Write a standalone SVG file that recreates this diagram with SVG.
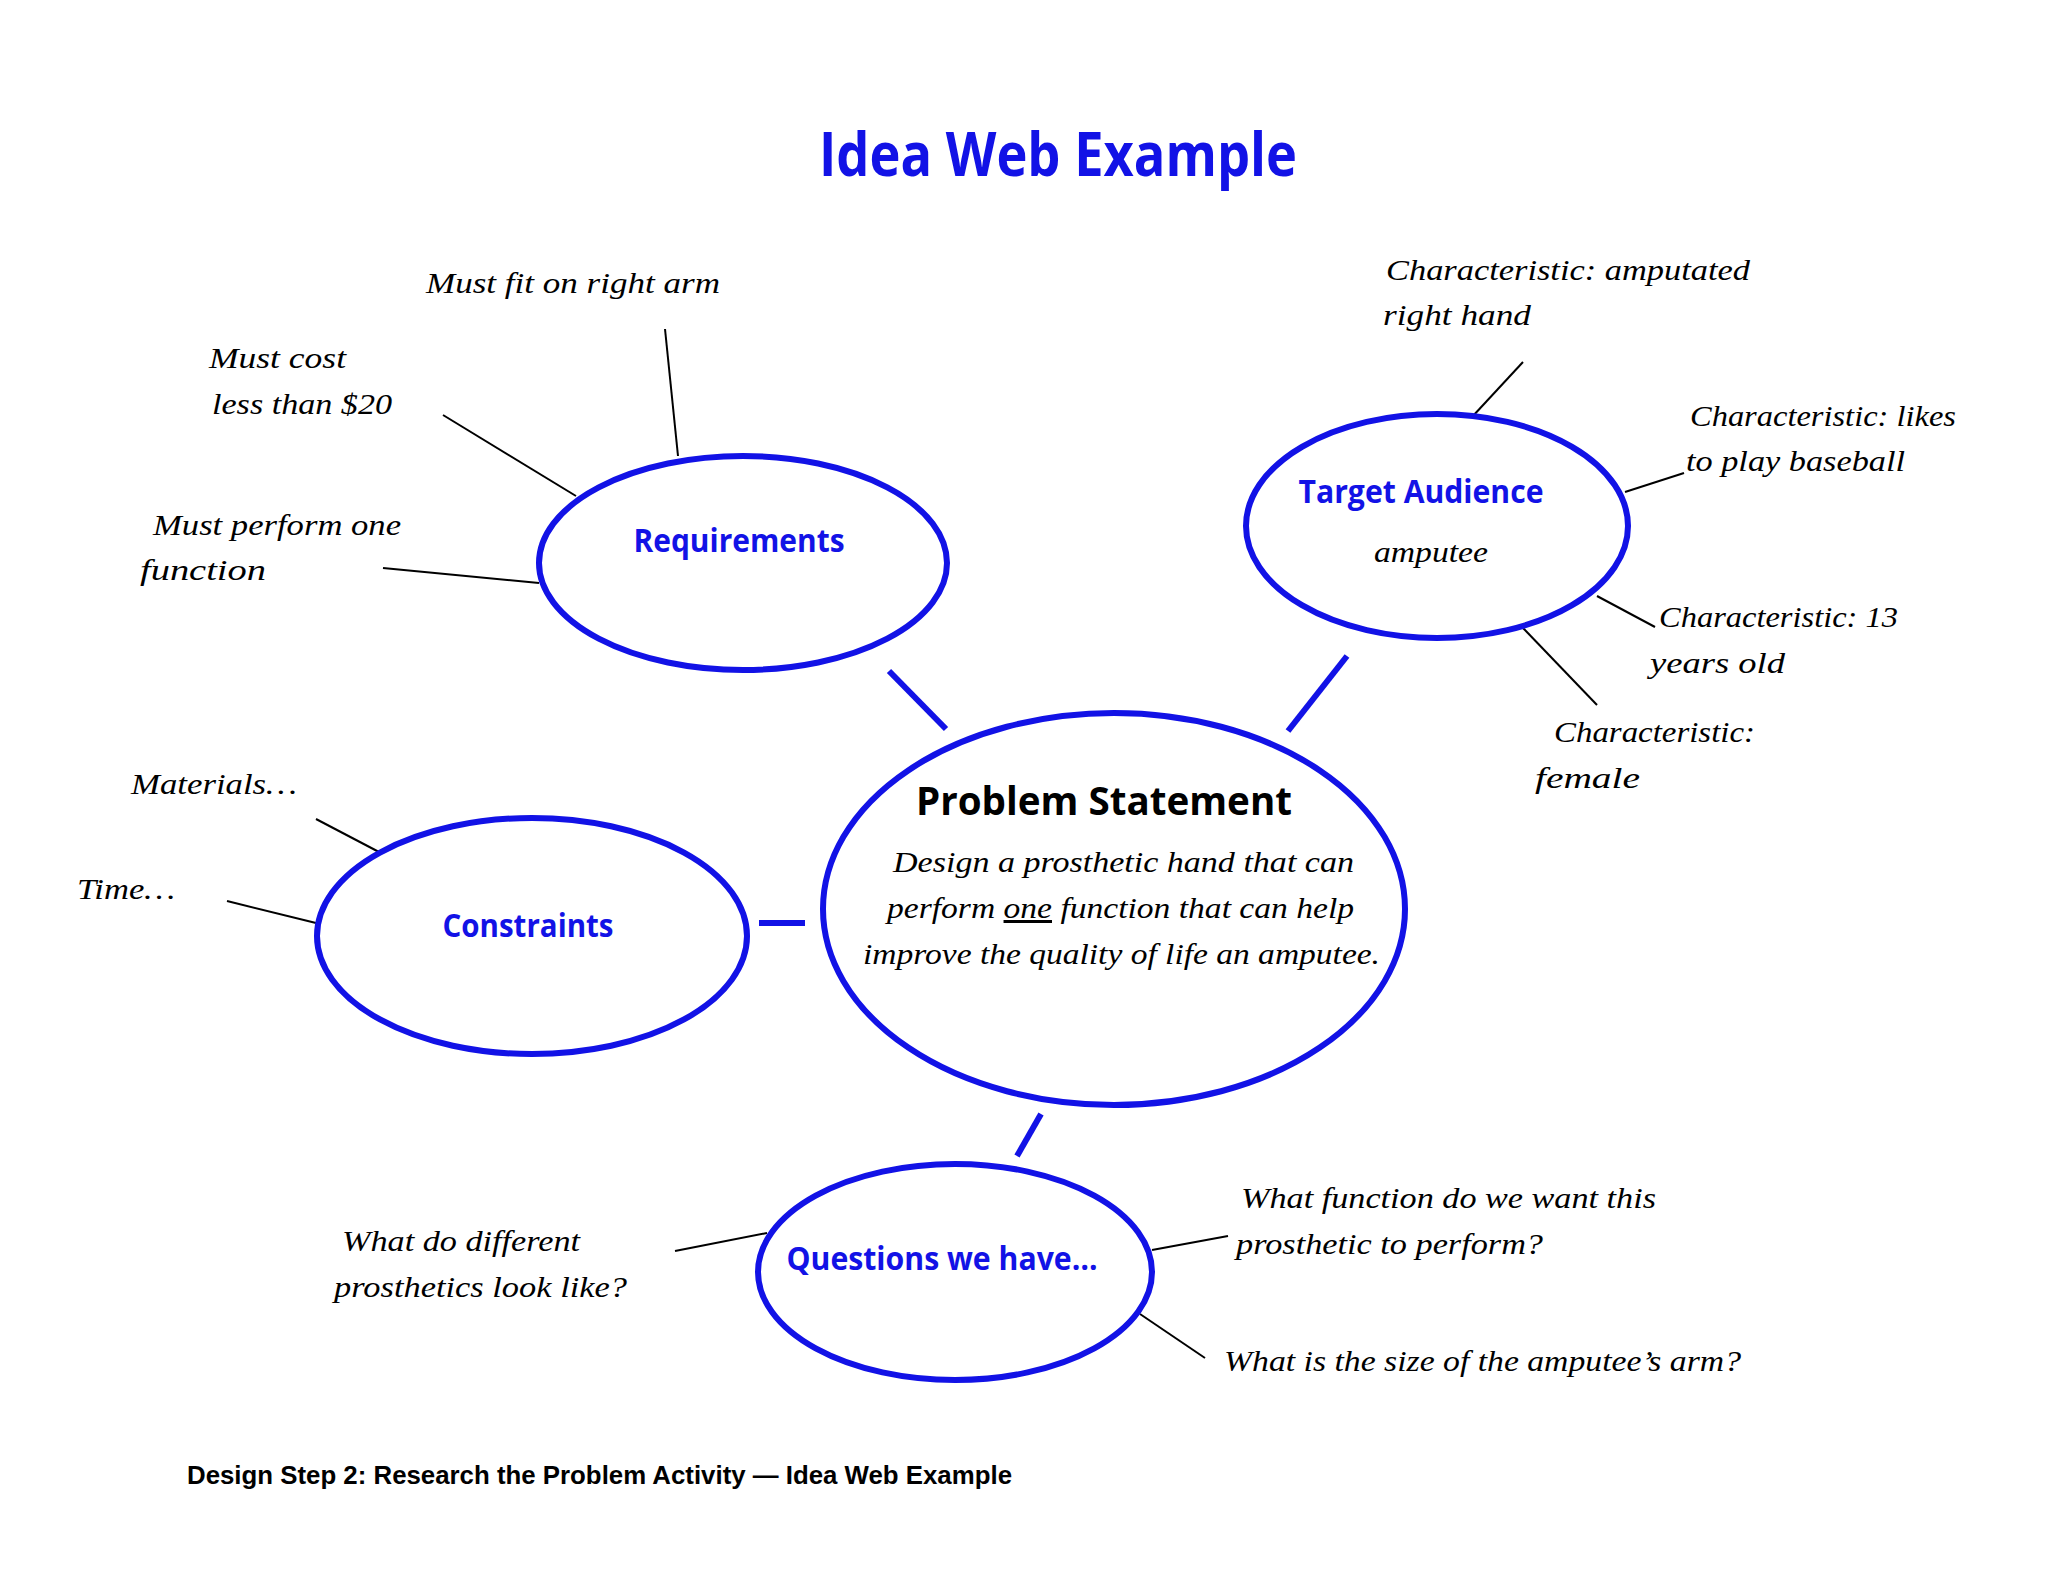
<svg xmlns="http://www.w3.org/2000/svg" width="2048" height="1582" viewBox="0 0 2048 1582">
<style>
.node{fill:#fff;stroke:#1212E6;stroke-width:6}
.hub{stroke:#1212E6;stroke-width:6;stroke-linecap:butt}
.leaf{stroke:#000;stroke-width:2}
.lbl{font-family:"Open Sans","Noto Sans",sans-serif;font-weight:bold;fill:#1212E6;text-anchor:middle}
.scr{font-family:"Liberation Serif","DejaVu Serif",serif;font-style:italic;font-size:30px;fill:#000}
</style>
<rect width="2048" height="1582" fill="#fff"/>
<text x="1058" y="176" class="lbl" font-size="60" textLength="478" lengthAdjust="spacingAndGlyphs">Idea Web Example</text>
<g id="connectors">
<line class="hub" x1="889" y1="671" x2="946" y2="729"/>
<line class="hub" x1="1347" y1="656" x2="1288" y2="731"/>
<line class="hub" x1="759" y1="923" x2="805" y2="923"/>
<line class="hub" x1="1041" y1="1114" x2="1017" y2="1156"/>
<line class="leaf" x1="665" y1="329" x2="678" y2="456"/>
<line class="leaf" x1="443" y1="415" x2="576" y2="496"/>
<line class="leaf" x1="383" y1="568" x2="539" y2="583"/>
<line class="leaf" x1="1523" y1="362" x2="1472" y2="417"/>
<line class="leaf" x1="1684" y1="473" x2="1625" y2="492"/>
<line class="leaf" x1="1655" y1="627" x2="1597" y2="596"/>
<line class="leaf" x1="1597" y1="705" x2="1523" y2="628"/>
<line class="leaf" x1="316" y1="819" x2="379" y2="852"/>
<line class="leaf" x1="227" y1="901" x2="316" y2="923"/>
<line class="leaf" x1="675" y1="1251" x2="767" y2="1233"/>
<line class="leaf" x1="1228" y1="1236" x2="1152" y2="1250"/>
<line class="leaf" x1="1205" y1="1358" x2="1140" y2="1314"/>
</g>
<g id="requirements">
<ellipse class="node" cx="743" cy="563" rx="204" ry="107"/>
<text x="739" y="552" class="lbl" font-size="32" textLength="211" lengthAdjust="spacingAndGlyphs">Requirements</text>
</g>
<g id="target-audience">
<ellipse class="node" cx="1437" cy="526" rx="191" ry="112"/>
<text x="1421" y="503" class="lbl" font-size="32" textLength="245" lengthAdjust="spacingAndGlyphs">Target Audience</text>
<text x="1431" y="562" class="scr" text-anchor="middle" textLength="114" lengthAdjust="spacingAndGlyphs">amputee</text>
</g>
<g id="problem-statement">
<ellipse class="node" cx="1114" cy="909" rx="291" ry="196"/>
<text x="1104" y="815" font-family="'Open Sans','Noto Sans',sans-serif" font-weight="bold" font-size="40" fill="#000" text-anchor="middle" textLength="376" lengthAdjust="spacingAndGlyphs">Problem Statement</text>
<text x="893" y="872" class="scr" font-size="32" textLength="461" lengthAdjust="spacingAndGlyphs">Design a prosthetic hand that can</text>
<text x="887" y="918" class="scr" font-size="32" textLength="467" lengthAdjust="spacingAndGlyphs">perform <tspan text-decoration="underline">one</tspan> function that can help</text>
<text x="863" y="964" class="scr" font-size="32" textLength="517" lengthAdjust="spacingAndGlyphs">improve the quality of life an amputee.</text>
</g>
<g id="constraints">
<ellipse class="node" cx="532" cy="936" rx="215" ry="118"/>
<text x="528" y="937" class="lbl" font-size="32" textLength="171" lengthAdjust="spacingAndGlyphs">Constraints</text>
</g>
<g id="questions">
<ellipse class="node" cx="955" cy="1272" rx="197" ry="108"/>
<text x="942" y="1270" class="lbl" font-size="32" textLength="311" lengthAdjust="spacingAndGlyphs">Questions we have…</text>
</g>
<g id="req-leaves">
<text x="426" y="293" class="scr" textLength="294" lengthAdjust="spacingAndGlyphs">Must fit on right arm</text>
<text x="209" y="368" class="scr" textLength="137" lengthAdjust="spacingAndGlyphs">Must cost</text>
<text x="212" y="414" class="scr" textLength="180" lengthAdjust="spacingAndGlyphs">less than $20</text>
<text x="153" y="535" class="scr" textLength="248" lengthAdjust="spacingAndGlyphs">Must perform one</text>
<text x="140" y="580" class="scr" textLength="126" lengthAdjust="spacingAndGlyphs">function</text>
</g>
<g id="ta-leaves">
<text x="1386" y="280" class="scr" textLength="364" lengthAdjust="spacingAndGlyphs">Characteristic:  amputated</text>
<text x="1383" y="325" class="scr" textLength="148" lengthAdjust="spacingAndGlyphs">right hand</text>
<text x="1690" y="426" class="scr" textLength="266" lengthAdjust="spacingAndGlyphs">Characteristic: likes</text>
<text x="1686" y="471" class="scr" textLength="219" lengthAdjust="spacingAndGlyphs">to play baseball</text>
<text x="1659" y="627" class="scr" textLength="239" lengthAdjust="spacingAndGlyphs">Characteristic: 13</text>
<text x="1650" y="673" class="scr" textLength="135" lengthAdjust="spacingAndGlyphs">years old</text>
<text x="1554" y="742" class="scr" textLength="201" lengthAdjust="spacingAndGlyphs">Characteristic:</text>
<text x="1535" y="788" class="scr" textLength="105" lengthAdjust="spacingAndGlyphs">female</text>
</g>
<g id="con-leaves">
<text x="131" y="794" class="scr" textLength="166" lengthAdjust="spacingAndGlyphs">Materials…</text>
<text x="77" y="899" class="scr" textLength="98" lengthAdjust="spacingAndGlyphs">Time…</text>
</g>
<g id="q-leaves">
<text x="342" y="1251" class="scr" textLength="238" lengthAdjust="spacingAndGlyphs">What do different</text>
<text x="334" y="1297" class="scr" textLength="293" lengthAdjust="spacingAndGlyphs">prosthetics look like?</text>
<text x="1241" y="1208" class="scr" textLength="415" lengthAdjust="spacingAndGlyphs">What function do we want this</text>
<text x="1236" y="1254" class="scr" textLength="307" lengthAdjust="spacingAndGlyphs">prosthetic to perform?</text>
<text x="1224" y="1371" class="scr" textLength="517" lengthAdjust="spacingAndGlyphs">What is the size of the amputee’s arm?</text>
</g>
<text x="187" y="1484" font-family="'Liberation Sans',Arial,sans-serif" font-weight="bold" font-size="25" fill="#000" textLength="825" lengthAdjust="spacingAndGlyphs">Design Step 2: Research the Problem Activity — Idea Web Example</text>
</svg>
